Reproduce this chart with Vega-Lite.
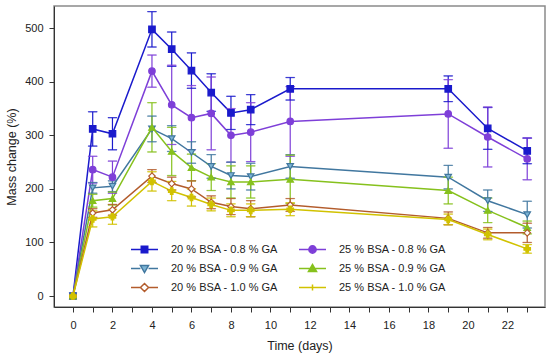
{
  "$schema": "https://vega.github.io/schema/vega-lite/v6.json",
  "autosize": "none",
  "width": 491,
  "height": 301,
  "padding": {"left": 54, "top": 6, "right": 5, "bottom": 55},
  "background": "white",
  "config": {
    "font": "Liberation Sans",
    "view": {"stroke": "#8a8a8a", "strokeWidth": 1.5},
    "axis": {"grid": false, "domainColor": "#333", "tickColor": "#333", "labelColor": "#222", "titleColor": "#222", "labelFontSize": 11, "titleFontSize": 12.5, "titleFontWeight": "normal", "tickSize": 5, "labelFont": "Liberation Sans", "titleFont": "Liberation Sans"}
  },
  "data": {"values": [
    {"s":"20 % BSA - 0.8 % GA","d":0,"m":0},
    {"s":"20 % BSA - 0.8 % GA","d":1,"m":312,"lo":280,"hi":344},
    {"s":"20 % BSA - 0.8 % GA","d":2,"m":303,"lo":273,"hi":333},
    {"s":"20 % BSA - 0.8 % GA","d":4,"m":498,"lo":465,"hi":531},
    {"s":"20 % BSA - 0.8 % GA","d":5,"m":461,"lo":429,"hi":493},
    {"s":"20 % BSA - 0.8 % GA","d":6,"m":421,"lo":388,"hi":454},
    {"s":"20 % BSA - 0.8 % GA","d":7,"m":380,"lo":345,"hi":415},
    {"s":"20 % BSA - 0.8 % GA","d":8,"m":342,"lo":311,"hi":373},
    {"s":"20 % BSA - 0.8 % GA","d":9,"m":348,"lo":320,"hi":376},
    {"s":"20 % BSA - 0.8 % GA","d":11,"m":387,"lo":366,"hi":408},
    {"s":"20 % BSA - 0.8 % GA","d":19,"m":387,"lo":363,"hi":411},
    {"s":"20 % BSA - 0.8 % GA","d":21,"m":313,"lo":274,"hi":352},
    {"s":"20 % BSA - 0.8 % GA","d":23,"m":271,"lo":247,"hi":295},
    {"s":"25 % BSA - 0.8 % GA","d":0,"m":0},
    {"s":"25 % BSA - 0.8 % GA","d":1,"m":236,"lo":211,"hi":261},
    {"s":"25 % BSA - 0.8 % GA","d":2,"m":222,"lo":192,"hi":252},
    {"s":"25 % BSA - 0.8 % GA","d":4,"m":420,"lo":390,"hi":450},
    {"s":"25 % BSA - 0.8 % GA","d":5,"m":357,"lo":283,"hi":431},
    {"s":"25 % BSA - 0.8 % GA","d":6,"m":333,"lo":273,"hi":393},
    {"s":"25 % BSA - 0.8 % GA","d":7,"m":341,"lo":273,"hi":409},
    {"s":"25 % BSA - 0.8 % GA","d":8,"m":300,"lo":250,"hi":350},
    {"s":"25 % BSA - 0.8 % GA","d":9,"m":306,"lo":251,"hi":361},
    {"s":"25 % BSA - 0.8 % GA","d":11,"m":326,"lo":261,"hi":391},
    {"s":"25 % BSA - 0.8 % GA","d":19,"m":340,"lo":276,"hi":404},
    {"s":"25 % BSA - 0.8 % GA","d":21,"m":297,"lo":241,"hi":353},
    {"s":"25 % BSA - 0.8 % GA","d":23,"m":256,"lo":217,"hi":295},
    {"s":"20 % BSA - 0.9 % GA","d":0,"m":0},
    {"s":"20 % BSA - 0.9 % GA","d":1,"m":202,"lo":192,"hi":212},
    {"s":"20 % BSA - 0.9 % GA","d":2,"m":205,"lo":195,"hi":215},
    {"s":"20 % BSA - 0.9 % GA","d":4,"m":312,"lo":288,"hi":336},
    {"s":"20 % BSA - 0.9 % GA","d":5,"m":294,"lo":270,"hi":318},
    {"s":"20 % BSA - 0.9 % GA","d":6,"m":268,"lo":248,"hi":288},
    {"s":"20 % BSA - 0.9 % GA","d":7,"m":242,"lo":220,"hi":264},
    {"s":"20 % BSA - 0.9 % GA","d":8,"m":225,"lo":200,"hi":250},
    {"s":"20 % BSA - 0.9 % GA","d":9,"m":223,"lo":198,"hi":248},
    {"s":"20 % BSA - 0.9 % GA","d":11,"m":242,"lo":220,"hi":264},
    {"s":"20 % BSA - 0.9 % GA","d":19,"m":222,"lo":200,"hi":244},
    {"s":"20 % BSA - 0.9 % GA","d":21,"m":178,"lo":158,"hi":198},
    {"s":"20 % BSA - 0.9 % GA","d":23,"m":152,"lo":127,"hi":177},
    {"s":"25 % BSA - 0.9 % GA","d":0,"m":0},
    {"s":"25 % BSA - 0.9 % GA","d":1,"m":178,"lo":166,"hi":190},
    {"s":"25 % BSA - 0.9 % GA","d":2,"m":182,"lo":170,"hi":194},
    {"s":"25 % BSA - 0.9 % GA","d":4,"m":315,"lo":269,"hi":361},
    {"s":"25 % BSA - 0.9 % GA","d":5,"m":270,"lo":225,"hi":315},
    {"s":"25 % BSA - 0.9 % GA","d":6,"m":240,"lo":215,"hi":265},
    {"s":"25 % BSA - 0.9 % GA","d":7,"m":222,"lo":197,"hi":247},
    {"s":"25 % BSA - 0.9 % GA","d":8,"m":213,"lo":183,"hi":243},
    {"s":"25 % BSA - 0.9 % GA","d":9,"m":213,"lo":183,"hi":243},
    {"s":"25 % BSA - 0.9 % GA","d":11,"m":218,"lo":173,"hi":263},
    {"s":"25 % BSA - 0.9 % GA","d":19,"m":197,"lo":172,"hi":222},
    {"s":"25 % BSA - 0.9 % GA","d":21,"m":160,"lo":137,"hi":183},
    {"s":"25 % BSA - 0.9 % GA","d":23,"m":128,"lo":116,"hi":140},
    {"s":"20 % BSA - 1.0 % GA","d":0,"m":0},
    {"s":"20 % BSA - 1.0 % GA","d":1,"m":155,"lo":147,"hi":163},
    {"s":"20 % BSA - 1.0 % GA","d":2,"m":161,"lo":151,"hi":171},
    {"s":"20 % BSA - 1.0 % GA","d":4,"m":224,"lo":212,"hi":236},
    {"s":"20 % BSA - 1.0 % GA","d":5,"m":210,"lo":198,"hi":222},
    {"s":"20 % BSA - 1.0 % GA","d":6,"m":200,"lo":185,"hi":215},
    {"s":"20 % BSA - 1.0 % GA","d":7,"m":175,"lo":163,"hi":187},
    {"s":"20 % BSA - 1.0 % GA","d":8,"m":167,"lo":152,"hi":182},
    {"s":"20 % BSA - 1.0 % GA","d":9,"m":163,"lo":148,"hi":178},
    {"s":"20 % BSA - 1.0 % GA","d":11,"m":170,"lo":158,"hi":182},
    {"s":"20 % BSA - 1.0 % GA","d":19,"m":145,"lo":133,"hi":157},
    {"s":"20 % BSA - 1.0 % GA","d":21,"m":118,"lo":108,"hi":128},
    {"s":"20 % BSA - 1.0 % GA","d":23,"m":118,"lo":100,"hi":136},
    {"s":"25 % BSA - 1.0 % GA","d":0,"m":0},
    {"s":"25 % BSA - 1.0 % GA","d":1,"m":144,"lo":129,"hi":159},
    {"s":"25 % BSA - 1.0 % GA","d":2,"m":148,"lo":134,"hi":162},
    {"s":"25 % BSA - 1.0 % GA","d":4,"m":214,"lo":196,"hi":232},
    {"s":"25 % BSA - 1.0 % GA","d":5,"m":196,"lo":178,"hi":214},
    {"s":"25 % BSA - 1.0 % GA","d":6,"m":184,"lo":168,"hi":200},
    {"s":"25 % BSA - 1.0 % GA","d":7,"m":171,"lo":159,"hi":183},
    {"s":"25 % BSA - 1.0 % GA","d":8,"m":160,"lo":148,"hi":172},
    {"s":"25 % BSA - 1.0 % GA","d":9,"m":160,"lo":148,"hi":172},
    {"s":"25 % BSA - 1.0 % GA","d":11,"m":162,"lo":150,"hi":174},
    {"s":"25 % BSA - 1.0 % GA","d":19,"m":143,"lo":133,"hi":153},
    {"s":"25 % BSA - 1.0 % GA","d":21,"m":115,"lo":105,"hi":125},
    {"s":"25 % BSA - 1.0 % GA","d":23,"m":88,"lo":80,"hi":96}
  ]},
  "encoding": {
    "x": {"field": "d", "type": "quantitative", "scale": {"domain": [-0.96, 23.9], "nice": false, "zero": false},
      "axis": {"title": "Time (days)", "values": [0,1,2,3,4,5,6,7,8,9,10,11,12,13,14,15,16,17,18,19,20,21,22,23], "labelExpr": "datum.value % 2 == 0 ? datum.label : ''", "labelPadding": 7, "titlePadding": 9}}
  },
  "layer": [
    {
      "mark": {"type": "line", "strokeWidth": 1.5},
      "encoding": {
        "y": {"field": "m", "type": "quantitative", "scale": {"domain": [-20.5, 541.6], "nice": false, "zero": false},
          "axis": {"title": "Mass change (%)", "values": [0,100,200,300,400,500], "labelPadding": 6, "titlePadding": 6}},
        "color": {"field": "s", "type": "nominal",
          "scale": {"domain": ["20 % BSA - 0.8 % GA","25 % BSA - 0.8 % GA","20 % BSA - 0.9 % GA","25 % BSA - 0.9 % GA","20 % BSA - 1.0 % GA","25 % BSA - 1.0 % GA"],
                    "range": ["#1a1acc","#7e3fd8","#41779f","#86c11d","#b35c2c","#d1c200"]},
          "legend": {"title": null, "orient": "none", "direction": "horizontal", "legendX": 76, "legendY": 237, "columns": 2, "columnPadding": 20, "rowPadding": 6, "clipHeight": 13, "padding": 0,
            "labelFontSize": 11, "labelFont": "Liberation Sans", "labelColor": "#222", "symbolSize": 729, "symbolStrokeWidth": 1.5, "labelOffset": 12,
            "encode": {"symbols": {"update": {
              "shape": {"signal": "['M-1,0H1M-0.24,-0.24H0.24V0.24H-0.24Z','M-1,0H1M-0.27,0A0.27,0.27,0,1,0,0.27,0A0.27,0.27,0,1,0,-0.27,0Z','M-1,0H-0.3M0.3,0H1M-0.3,-0.22H0.3L0,0.3Z','M-1,0H1M-0.3,0.22H0.3L0,-0.3Z','M-1,0H-0.3M0.3,0H1M0,-0.3L0.3,0L0,0.3L-0.3,0Z','M-1,0H1M0,-0.22V0.22'][indexof(['20 % BSA - 0.8 % GA','25 % BSA - 0.8 % GA','20 % BSA - 0.9 % GA','25 % BSA - 0.9 % GA','20 % BSA - 1.0 % GA','25 % BSA - 1.0 % GA'], datum.value)]"},
              "fill": {"signal": "['#1a1acc','#7e3fd8','#7cb4d4','#86c11d','#ffffff','#d1c200'][indexof(['20 % BSA - 0.8 % GA','25 % BSA - 0.8 % GA','20 % BSA - 0.9 % GA','25 % BSA - 0.9 % GA','20 % BSA - 1.0 % GA','25 % BSA - 1.0 % GA'], datum.value)]"}
            }}}
          }}
      }
    },
    {
      "mark": {"type": "rule", "strokeWidth": 1.2},
      "encoding": {
        "y": {"field": "lo", "type": "quantitative"},
        "y2": {"field": "hi"},
        "color": {"field": "s", "type": "nominal"}
      }
    },
    {
      "mark": {"type": "tick", "orient": "horizontal", "size": 9, "thickness": 0.3, "filled": false, "strokeWidth": 1},
      "encoding": {
        "y": {"field": "lo", "type": "quantitative"},
        "color": {"field": "s", "type": "nominal"}
      }
    },
    {
      "mark": {"type": "tick", "orient": "horizontal", "size": 9, "thickness": 0.3, "filled": false, "strokeWidth": 1},
      "encoding": {
        "y": {"field": "hi", "type": "quantitative"},
        "color": {"field": "s", "type": "nominal"}
      }
    },
    {
      "mark": {"type": "point", "filled": true, "size": 42, "strokeWidth": 1.2, "opacity": 1},
      "encoding": {
        "y": {"field": "m", "type": "quantitative"},
        "shape": {"field": "s", "type": "nominal", "legend": null,
          "scale": {"domain": ["25 % BSA - 1.0 % GA","20 % BSA - 1.0 % GA","25 % BSA - 0.9 % GA","20 % BSA - 0.9 % GA","25 % BSA - 0.8 % GA","20 % BSA - 0.8 % GA"],
                    "range": ["cross","diamond","triangle-up","triangle-down","circle","square"]}},
        "fill": {"field": "s", "type": "nominal", "legend": null,
          "scale": {"domain": ["25 % BSA - 1.0 % GA","20 % BSA - 1.0 % GA","25 % BSA - 0.9 % GA","20 % BSA - 0.9 % GA","25 % BSA - 0.8 % GA","20 % BSA - 0.8 % GA"],
                    "range": ["#d1c200","#ffffff","#86c11d","#7cb4d4","#7e3fd8","#1a1acc"]}},
        "stroke": {"field": "s", "type": "nominal", "legend": null,
          "scale": {"domain": ["25 % BSA - 1.0 % GA","20 % BSA - 1.0 % GA","25 % BSA - 0.9 % GA","20 % BSA - 0.9 % GA","25 % BSA - 0.8 % GA","20 % BSA - 0.8 % GA"],
                    "range": ["#d1c200","#b35c2c","#86c11d","#41779f","#7e3fd8","#1a1acc"]}}
      }
    }
  ]
}
